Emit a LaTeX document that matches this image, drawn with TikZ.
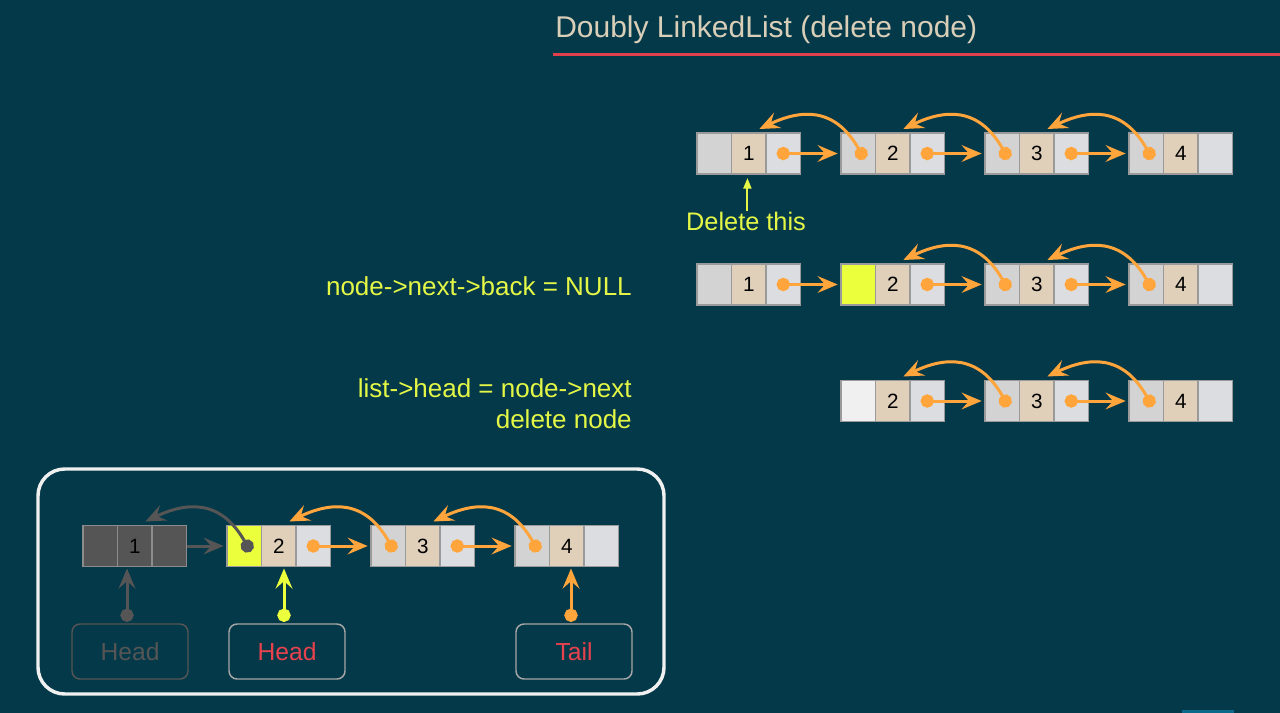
\documentclass[tikz,border=0pt]{standalone}
\usepackage{fontspec}
\setmainfont{Liberation Sans}
\usepackage{xcolor}
\usepackage{tikz}
\usetikzlibrary{arrows.meta, positioning}

\definecolor{slatebg}{RGB}{4,57,73}
\definecolor{titlebeige}{RGB}{217,206,184}
\definecolor{titlered}{RGB}{224,64,76}
\definecolor{prevgray}{RGB}{211,211,211}
\definecolor{databeige}{RGB}{224,208,186}
\definecolor{nextgray}{RGB}{220,221,225}
\definecolor{cellline}{RGB}{154,154,154}
\definecolor{freewhite}{RGB}{240,240,240}
\definecolor{markyellow}{RGB}{236,255,60}
\definecolor{noteyellow}{RGB}{228,247,70}
\definecolor{linkorange}{RGB}{255,165,60}
\definecolor{deadgray}{RGB}{85,85,85}
\definecolor{deadline}{RGB}{140,140,140}
\definecolor{boxline}{RGB}{166,166,166}
\definecolor{headred}{RGB}{232,66,78}
\definecolor{framewhite}{RGB}{240,240,240}
\definecolor{slidebar}{RGB}{11,106,138}

\begin{document}
\begin{tikzpicture}[x=0.75pt, y=-0.75pt]

\tikzstyle{cell} = [rectangle, draw=cellline, line width=1.1pt, minimum width=25.875pt, minimum height=30.75pt, inner sep=0pt, outer sep=0pt, font=\fontsize{15.5}{18}\selectfont]
\tikzstyle{prevc} = [cell, fill=prevgray]
\tikzstyle{markc} = [cell, fill=markyellow]
\tikzstyle{freec} = [cell, fill=freewhite]
\tikzstyle{datac} = [cell, fill=databeige]
\tikzstyle{nextc} = [cell, fill=nextgray]
\tikzstyle{deadc} = [cell, fill=deadgray, draw=deadline]
\tikzstyle{link} = [line width=2.25pt, draw=linkorange, {Circle[length=10pt]}-{Stealth[length=15pt, width=12.5pt, inset=5.5pt]}, shorten <=-5pt]
\tikzstyle{deadlink} = [line width=2.25pt, draw=deadgray, -{Stealth[length=15pt, width=12.5pt, inset=5.5pt]}]
\tikzstyle{hint} = [draw=noteyellow, line width=1.5pt, -{Triangle[length=8pt, width=6pt]}]
\tikzstyle{ptrbox} = [rectangle, rounded corners=6pt, line width=1.1pt, minimum width=87pt, minimum height=41.25pt, font=\fontsize{18.5}{22}\selectfont]
\tikzstyle{note} = [text=noteyellow, font=\fontsize{19.5}{23.25}\selectfont, inner sep=0pt]

\fill[slatebg] (0,0) rectangle (1280,713);
\useasboundingbox (0,0) rectangle (1280,713);
\fill[slidebar] (1182,710) rectangle (1234,713);

% title
\node[anchor=west, inner sep=0pt, text=titlebeige, font=\fontsize{22.5}{27}\selectfont] (title) at (555,29.5) {Doubly LinkedList (delete node)};
\draw[titlered, line width=2.25pt] (553,54.5) -- (1280,54.5);

% list before delete
\foreach \i in {1,...,4} {
  \node[prevc] (ap\i) at ({714.25+144*(\i-1)},153.5) {};
  \node[datac, right=0pt of ap\i] (ad\i) {\i};
  \node[nextc, right=0pt of ad\i] (an\i) {};
}
\foreach \i/\j in {1/2,2/3,3/4} {
  \draw[link] (an\i.center) -- ([xshift=-2.5pt]ap\j.west);
  \draw[link] ([xshift=2.25pt]ap\j.center) .. controls +(-27,-48) and +(40,-19) .. ([xshift=-5pt,yshift=3pt]ad\i.north east);
}
\node[note, font=\fontsize{19}{22}\selectfont] (del) at (746,221) {Delete this};
\draw[hint] ([xshift=-1pt]ad1.south |- del.north) -- ([xshift=-1pt,yshift=-3pt]ad1.south);

% step 1
\node[note, anchor=east] (step1) at (632,286) {node->next->back = NULL};
\foreach \i/\pc in {1/prevc,2/markc,3/prevc,4/prevc} {
  \node[\pc] (bp\i) at ({714.25+144*(\i-1)},284.5) {};
  \node[datac, right=0pt of bp\i] (bd\i) {\i};
  \node[nextc, right=0pt of bd\i] (bn\i) {};
}
\foreach \i/\j in {1/2,2/3,3/4}
  \draw[link] (bn\i.center) -- ([xshift=-2.5pt]bp\j.west);
\foreach \i/\j in {2/3,3/4}
  \draw[link] ([xshift=2.25pt]bp\j.center) .. controls +(-27,-48) and +(40,-19) .. ([xshift=-5pt,yshift=3pt]bd\i.north east);

% step 2
\node[note, anchor=east, align=right] (step2) at (632,403.5) {list->head = node->next\\delete node};
\foreach \i/\pc in {2/freec,3/prevc,4/prevc} {
  \node[\pc] (cp\i) at ({714.25+144*(\i-1)},401) {};
  \node[datac, right=0pt of cp\i] (cd\i) {\i};
  \node[nextc, right=0pt of cd\i] (cn\i) {};
}
\foreach \i/\j in {2/3,3/4} {
  \draw[link] (cn\i.center) -- ([xshift=-2.5pt]cp\j.west);
  \draw[link] ([xshift=2.25pt]cp\j.center) .. controls +(-27,-48) and +(40,-19) .. ([xshift=-5pt,yshift=3pt]cd\i.north east);
}

% result with head and tail
\draw[framewhite, line width=2.6pt, rounded corners=20pt] (38,469) rectangle (664,694);
\node[deadc] (dp1) at (100.25,546) {};
\node[deadc, right=0pt of dp1] (dd1) {1};
\node[deadc, right=0pt of dd1] (dn1) {};
\foreach \i/\pc in {2/markc,3/prevc,4/prevc} {
  \node[\pc] (dp\i) at ({100.25+144*(\i-1)},546) {};
  \node[datac, right=0pt of dp\i] (dd\i) {\i};
  \node[nextc, right=0pt of dd\i] (dn\i) {};
}
\draw[deadlink] (dn1.east) -- ([xshift=-2.5pt]dp2.west);
\draw[link, draw=deadgray] ([xshift=2.25pt]dp2.center) .. controls +(-27,-48) and +(40,-19) .. ([xshift=-5pt,yshift=3pt]dd1.north east);
\foreach \i/\j in {2/3,3/4} {
  \draw[link] (dn\i.center) -- ([xshift=-2.5pt]dp\j.west);
  \draw[link] ([xshift=2.25pt]dp\j.center) .. controls +(-27,-48) and +(40,-19) .. ([xshift=-5pt,yshift=3pt]dd\i.north east);
}

\node[ptrbox, draw=deadgray, text=deadgray] (hold) at (130,651.5) {Head};
\node[ptrbox, draw=boxline, text=headred] (hnew) at (287,651.5) {Head};
\node[ptrbox, draw=boxline, text=headred] (tail) at (574,651.5) {Tail};

\draw[link, draw=deadgray] ([xshift=-2.25pt,yshift=6pt]hold.north) -- ([xshift=-2.25pt,yshift=-1.5pt]hold.north |- dd1.south);
\draw[link, draw=markyellow] ([xshift=-2.25pt,yshift=6pt]hnew.north) -- ([xshift=-2.25pt,yshift=-1.5pt]hnew.north |- dd2.south);
\draw[link] ([xshift=-2.25pt,yshift=6pt]tail.north) -- ([xshift=-2.25pt,yshift=-1.5pt]tail.north |- dd4.south);

\end{tikzpicture}
\end{document}
